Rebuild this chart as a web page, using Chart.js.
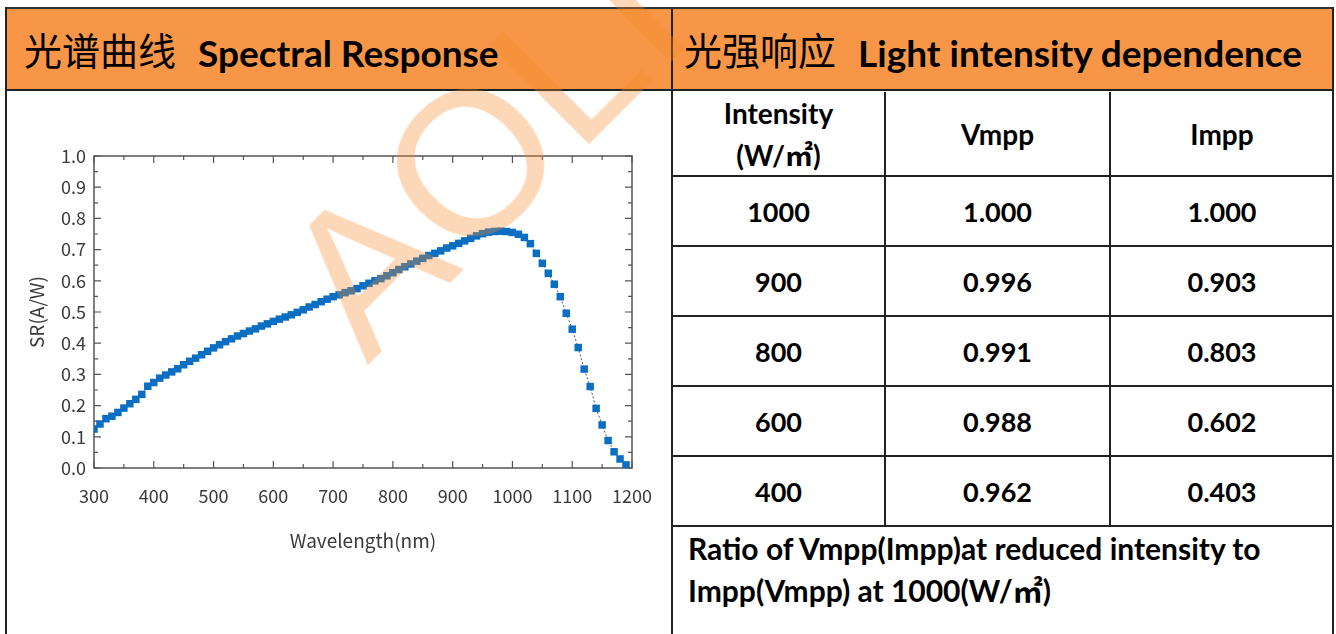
<!DOCTYPE html>
<html>
<head>
<meta charset="utf-8">
<script src="https://cdn.jsdelivr.net/npm/chart.js@4.4.0/dist/chart.umd.min.js"></script>
<style>
  html, body { margin: 0; padding: 0; background: #fff; }
  body { width: 1336px; height: 634px; position: relative; overflow: hidden; font-family: Lato, "Noto Sans CJK SC", sans-serif; }
  .head { position: absolute; top: 7px; left: 6px; width: 1328px; height: 84px; background: #f79646;
          border-top: 2px solid #333; border-bottom: 2px solid #222; box-sizing: border-box; }
  .htxt { position: absolute; top: 9px; height: 84px; line-height: 84px; font-size: 37px; font-weight: bold; color: #000; white-space: nowrap; }
  .htxt .cn { font-family: "Noto Sans CJK SC"; font-weight: normal; font-size: 38px; margin-right: 22px; position: relative; top: -2px; }
  .vline { position: absolute; width: 2px; background: #222; }
  .hline { position: absolute; height: 2px; background: #222; }
  #chartBox { position: absolute; left: 7px; top: 92px; width: 664px; height: 542px; }
  table { position: absolute; left: 672px; top: 92px; border-collapse: collapse; table-layout: fixed; }
  td { text-align: center; font-weight: bold; font-size: 27px; padding: 0; color: #000; }
  .note { position: absolute; left: 688px; top: 527px; font-size: 30px; font-weight: bold; line-height: 42px; }
  .wm { position: absolute; left: 376px; top: 188px; font-family: "Liberation Sans"; font-size: 205px; line-height: 205px;
        color: rgba(247, 138, 40, 0.33); transform-origin: 0 186px; transform: rotate(-45deg); pointer-events: none; white-space: nowrap; }
</style>
</head>
<body>
<div class="head"></div>
<div class="htxt" style="left:24px"><span class="cn">光谱曲线</span>Spectral Response</div>
<div class="htxt" style="left:684px"><span class="cn">光强响应</span>Light intensity dependence</div>

<div id="chartBox"><canvas id="spectral"></canvas></div>

<table id="intensityTable"></table>
<div class="note">Ratio of Vmpp(Impp)at reduced intensity to<br>Impp(Vmpp) at 1000(W/㎡)</div>

<div class="vline" style="left:5px; top:7px; height:627px"></div>
<div class="vline" style="left:671px; top:7px; height:627px"></div>
<div class="vline" style="left:1332px; top:7px; height:627px"></div>
<div class="vline" style="left:884px; top:92px; height:434px"></div>
<div class="vline" style="left:1109px; top:92px; height:434px"></div>
<div class="hline" style="left:671px; top:175px; width:663px"></div>
<div class="hline" style="left:671px; top:245px; width:663px"></div>
<div class="hline" style="left:671px; top:315px; width:663px"></div>
<div class="hline" style="left:671px; top:385px; width:663px"></div>
<div class="hline" style="left:671px; top:455px; width:663px"></div>
<div class="hline" style="left:671px; top:525px; width:663px"></div>

<div class="wm">AOLI</div>

<script>
// spectral response
const wavelength = [300, 310, 320, 330, 340, 350, 360, 370, 380, 390,
  400, 410, 420, 430, 440, 450, 460, 470, 480, 490,
  500, 510, 520, 530, 540, 550, 560, 570, 580, 590,
  600, 610, 620, 630, 640, 650, 660, 670, 680, 690,
  700, 710, 720, 730, 740, 750, 760, 770, 780, 790,
  800, 810, 820, 830, 840, 850, 860, 870, 880, 890,
  900, 910, 920, 930, 940, 950, 960, 970, 980, 990,
  1000, 1010, 1020, 1030, 1040, 1050, 1060, 1070, 1080, 1090,
  1100, 1110, 1120, 1130, 1140, 1150, 1160, 1170, 1180, 1190];
const srValues = [0.125, 0.141, 0.158, 0.166, 0.178, 0.192, 0.206, 0.220, 0.236, 0.262,
  0.274, 0.288, 0.298, 0.308, 0.318, 0.331, 0.342, 0.352, 0.363, 0.374,
  0.385, 0.395, 0.405, 0.414, 0.423, 0.431, 0.439, 0.446, 0.455, 0.462,
  0.470, 0.477, 0.484, 0.491, 0.499, 0.507, 0.516, 0.524, 0.533, 0.541,
  0.549, 0.555, 0.562, 0.568, 0.575, 0.584, 0.592, 0.600, 0.607, 0.616,
  0.626, 0.636, 0.645, 0.654, 0.663, 0.672, 0.681, 0.688, 0.696, 0.705,
  0.712, 0.720, 0.728, 0.736, 0.744, 0.751, 0.756, 0.758, 0.759, 0.758,
  0.755, 0.749, 0.739, 0.719, 0.688, 0.656, 0.624, 0.589, 0.549, 0.496,
  0.445, 0.386, 0.317, 0.261, 0.191, 0.138, 0.088, 0.052, 0.029, 0.010];

const xTicks = [300, 400, 500, 600, 700, 800, 900, 1000, 1100, 1200];
const yTicks = [0, 0.1, 0.2, 0.3, 0.4, 0.5, 0.6, 0.7, 0.8, 0.9, 1.0];

// light intensity table
const intensityHead = ['Intensity<br>(W/㎡)', 'Vmpp', 'Impp'];
const intensities = ['1000', '900', '800', '600', '400'];
const vmpp = ['1.000', '0.996', '0.991', '0.988', '0.962'];
const impp = ['1.000', '0.903', '0.803', '0.602', '0.403'];

function buildTable() {
  const t = document.getElementById('intensityTable');
  let html = '<colgroup><col style="width:213px"><col style="width:225px"><col style="width:224px"></colgroup>';
  html += '<tr style="height:84px">' + intensityHead.map((h, i) =>
    `<td style="line-height:${i === 0 ? 42 : 84}px; font-size:28px">${h}</td>`).join('') + '</tr>';
  intensities.forEach((v, i) => {
    html += `<tr style="height:70px"><td>${v}</td><td>${vmpp[i]}</td><td>${impp[i]}</td></tr>`;
  });
  t.innerHTML = html;
}
buildTable();

const tickFont = { family: '"Noto Sans CJK SC"', size: 18 };
const titleFont = { family: '"Noto Sans CJK SC"', size: 19 };

// frame with inward ticks on all four sides, like the original plot
const frameTicks = {
  id: 'frameTicks',
  beforeDatasetsDraw(chart) {
    const { ctx, chartArea: a, scales: { x, y } } = chart;
    ctx.save();
    ctx.strokeStyle = '#555';
    ctx.lineWidth = 1.5;
    ctx.strokeRect(a.left, a.top, a.width, a.height);
    ctx.lineWidth = 1.2;
    ctx.beginPath();
    xTicks.forEach((v, i) => {
      const marks = [[v, 7]];
      if (i < xTicks.length - 1) marks.push([(v + xTicks[i + 1]) / 2, 4]);
      marks.forEach(([val, len]) => {
        const px = x.getPixelForValue(val);
        ctx.moveTo(px, a.bottom); ctx.lineTo(px, a.bottom - len);
        ctx.moveTo(px, a.top); ctx.lineTo(px, a.top + len);
      });
    });
    yTicks.forEach((v, i) => {
      const marks = [[v, 7]];
      if (i < yTicks.length - 1) marks.push([(v + yTicks[i + 1]) / 2, 4]);
      marks.forEach(([val, len]) => {
        const py = y.getPixelForValue(val);
        ctx.moveTo(a.left, py); ctx.lineTo(a.left + len, py);
        ctx.moveTo(a.right, py); ctx.lineTo(a.right - len, py);
      });
    });
    ctx.stroke();
    ctx.restore();
  }
};

new Chart(document.getElementById('spectral'), {
  type: 'scatter',
  data: {
    datasets: [{
      data: wavelength.map((w, i) => ({ x: w, y: srValues[i] })),
      showLine: true,
      borderColor: '#555',
      borderWidth: 1,
      borderDash: [2, 2],
      pointStyle: 'rect',
      pointRadius: 5.3,
      pointBackgroundColor: '#0a6fc2',
      pointBorderColor: '#0a6fc2',
      pointBorderWidth: 0
    }]
  },
  options: {
    responsive: true,
    maintainAspectRatio: false,
    animation: false,
    layout: { padding: { left: 0, top: 64, right: 39, bottom: 66 } },
    plugins: { legend: { display: false }, tooltip: { enabled: false } },
    scales: {
      x: {
        type: 'linear', min: 300, max: 1200,
        afterBuildTicks: s => { s.ticks = xTicks.map(v => ({ value: v })); },
        afterFit: s => { s.height = 100; },
        grid: { display: false },
        border: { display: false },
        ticks: { color: '#3a3a3a', font: tickFont, padding: 9, maxRotation: 0, autoSkip: false, callback: v => String(v) },
        title: { display: true, text: 'Wavelength(nm)', color: '#3a3a3a', font: titleFont, padding: { top: 0, bottom: 16 } }
      },
      y: {
        min: 0, max: 1,
        afterBuildTicks: s => { s.ticks = yTicks.map(v => ({ value: v })); },
        afterFit: s => { s.width = 87; },
        grid: { display: false },
        border: { display: false },
        ticks: { color: '#3a3a3a', font: tickFont, padding: 0, callback: v => v.toFixed(1) },
        title: { display: true, text: 'SR(A/W)', color: '#3a3a3a', font: titleFont, padding: { top: 18, bottom: 0 } }
      }
    }
  },
  plugins: [frameTicks]
});
</script>
</body>
</html>
